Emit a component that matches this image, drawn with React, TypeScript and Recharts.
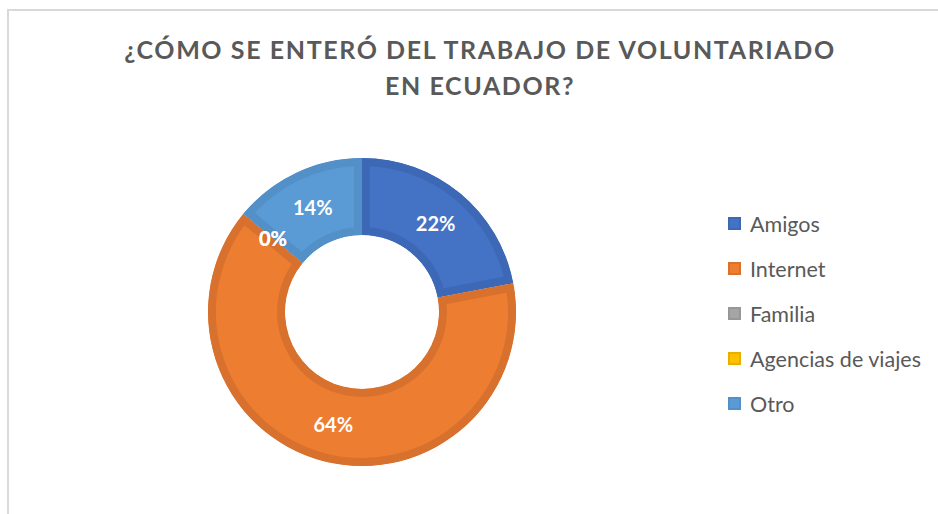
import React from 'react';
import { PieChart, Pie, Cell, Legend, Sector } from 'recharts';

const categories = ['Amigos', 'Internet', 'Familia', 'Agencias de viajes', 'Otro'];
const values = [22, 64, 0, 0, 14];
const fillColors = ['#4472C4', '#ED7D31', '#A5A5A5', '#FFC000', '#5B9BD5'];
const bandColors = ['#3D68B6', '#D8712D', '#979797', '#E8AF00', '#5290C7'];
const titleLines = ['¿CÓMO SE ENTERÓ DEL TRABAJO DE VOLUNTARIADO', 'EN ECUADOR?'];

const data = categories.map((name, i) => ({ name, value: values[i] }));

const RADIAN = Math.PI / 180;
const FONT = 'Lato, "Open Sans", sans-serif';

const RingSector = (props: any) => {
  const { cx, cy, innerRadius, outerRadius, startAngle, endAngle, fill } = props;
  const name = props.payload?.name ?? props.name;
  const idx = categories.indexOf(name);
  const id = `ring-clip-${idx}`;
  const geom = { cx, cy, innerRadius, outerRadius, startAngle, endAngle };
  return (
    <g>
      <defs>
        <clipPath id={id}>
          <Sector {...geom} />
        </clipPath>
      </defs>
      <Sector
        {...geom}
        fill={fill}
        stroke={bandColors[idx] ?? fill}
        strokeWidth={16}
        clipPath={`url(#${id})`}
      />
    </g>
  );
};

const renderLabel = (p: any) => {
  const { cx, cy, midAngle, innerRadius, outerRadius, percent } = p;
  const r = (innerRadius + outerRadius) / 2;
  const x = cx + r * Math.cos(-midAngle * RADIAN);
  const y = cy + r * Math.sin(-midAngle * RADIAN);
  return (
    <text
      x={x}
      y={y}
      fill="#FFFFFF"
      textAnchor="middle"
      dominantBaseline="central"
      style={{ fontFamily: FONT, fontWeight: 700, fontSize: 20 }}
    >
      {`${Math.round(percent * 100)}%`}
    </text>
  );
};

const renderLegend = (props: any) => {
  const payload = [...(props.payload || [])].sort(
    (a: any, b: any) => categories.indexOf(a.value) - categories.indexOf(b.value)
  );
  return (
    <div style={{ margin: 0, padding: 0 }}>
      {payload.map((entry: any, i: number) => {
        const idx = categories.indexOf(entry.value);
        const k = idx >= 0 ? idx : i;
        return (
          <div
            key={`leg-${i}`}
            style={{ height: 45, display: 'flex', alignItems: 'center' }}
          >
            <span
              style={{
                display: 'inline-block',
                width: 13,
                height: 13,
                boxSizing: 'border-box',
                background: fillColors[k],
                border: `2px solid ${bandColors[k]}`,
                marginRight: 9,
              }}
            />
            <span style={{ fontFamily: FONT, fontSize: 21.5, color: '#595959' }}>
              {entry.value}
            </span>
          </div>
        );
      })}
    </div>
  );
};

export default function App() {
  return (
    <div
      style={{
        position: 'absolute',
        left: 0,
        top: 0,
        width: 938,
        height: 514,
        background: '#FFFFFF',
        overflow: 'hidden',
      }}
    >
      <div
        style={{
          position: 'absolute',
          left: 7,
          top: 9,
          width: 960,
          height: 540,
          borderTop: '2px solid #D9D9D9',
          borderLeft: '2px solid #D9D9D9',
        }}
      />
      <div
        style={{
          position: 'absolute',
          left: 0,
          top: 31,
          width: 960,
          textAlign: 'center',
          fontFamily: FONT,
          fontWeight: 700,
          fontSize: 25,
          lineHeight: '36px',
          letterSpacing: 1.6,
          color: '#595959',
        }}
      >
        {titleLines.map((t, i) => (
          <div key={i}>{t}</div>
        ))}
      </div>
      <div style={{ position: 'absolute', left: 0, top: 0 }}>
        <PieChart width={938} height={514}>
          <Pie
            data={data}
            dataKey="value"
            nameKey="name"
            cx={357}
            cy={307}
            innerRadius={77}
            outerRadius={154}
            startAngle={90}
            endAngle={-270}
            stroke="none"
            labelLine={false}
            label={renderLabel}
            shape={RingSector}
            isAnimationActive={false}
          >
            {data.map((d, i) => (
              <Cell key={d.name} fill={fillColors[i]} />
            ))}
          </Pie>
          <Legend
            content={renderLegend}
            wrapperStyle={{ left: 728, top: 201, width: 210 }}
          />
        </PieChart>
      </div>
    </div>
  );
}
